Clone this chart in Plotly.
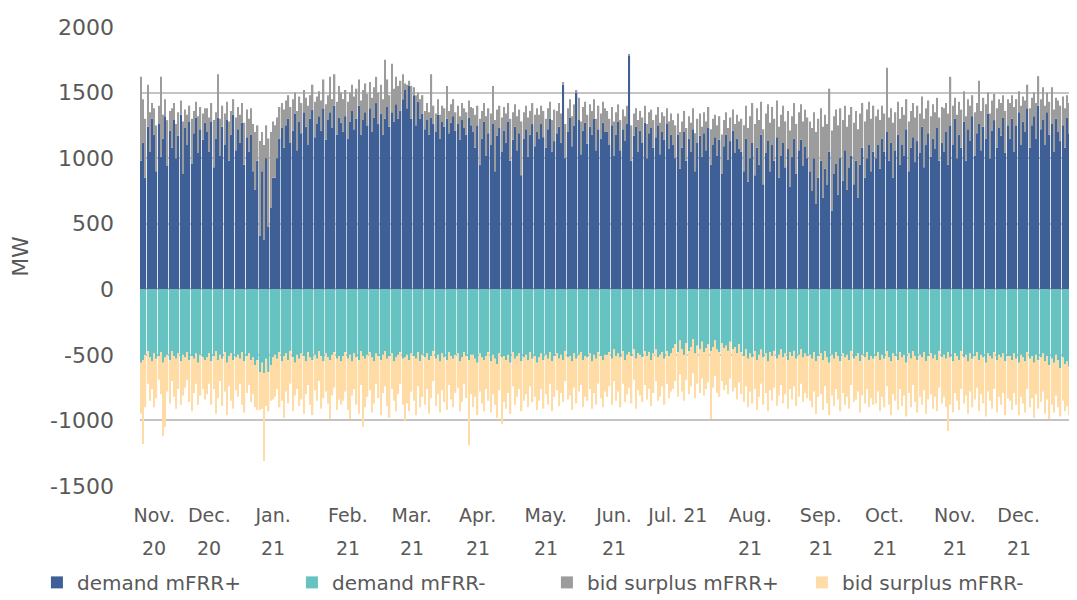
import pandas as pd
import plotly.graph_objects as go

# ---- data (MW, one value per day, Nov 2020 - Dec 2021) ----
demand_plus = [
 980,1120,850,1240,1050,1300,1180,900,1260,1010,1150,1320,940,1210,1080,1290,1000,1170,1330,880,1230,1100,1280,960,1190,1310,1040,1220,1140,1270,
 1200,1050,1280,930,1150,1310,1020,1240,1100,1290,980,1180,1330,1060,1220,1120,1270,950,1160,1050,1180,900,760,980,410,900,380,1000,480,620,850,
 850,1000,1150,1230,1080,1250,1300,1120,1210,1340,1060,1280,1190,1350,1240,1100,1300,1370,1160,1260,1320,1210,1380,1140,1290,1350,1230,1400,1180,1310,1270,
 1200,1320,1150,1280,1360,1220,1300,1400,1180,1290,1350,1250,1380,1200,1310,1420,1260,1340,1180,1300,1390,1240,1350,1280,1410,1300,1360,1450,
 1520,1380,1550,1300,1480,1250,1430,1300,1340,1220,1290,1180,1310,1260,1200,1330,1150,1280,1240,1300,1190,1270,1320,1210,1260,1140,1290,1230,1180,1310,1250,
 1200,1080,1250,950,1150,1280,1020,1190,1100,1260,900,1170,1230,1050,1210,1120,1280,980,1140,1240,1060,1190,870,1150,1220,1010,1180,1260,1090,1200,
 1150,1260,1160,1080,1220,1300,1050,1130,1190,1240,1120,1560,1000,1200,1310,1090,1250,1500,1290,1030,1210,1270,1110,1240,1180,1300,1060,1220,1150,1270,1200,
 1200,1100,1250,1020,1180,1280,1060,1220,1130,1260,1780,980,1170,1240,1050,1210,1120,1270,1000,1190,1230,1080,1160,1250,1030,1200,1140,1260,1070,1180,
 1100,1000,1180,920,1080,1200,980,1150,1050,1220,900,1120,1170,1010,1190,1060,1230,950,1100,1160,1020,1140,880,1090,1180,990,1130,1210,1040,1150,1070,
 1050,900,1150,820,1000,1120,870,1080,950,1180,800,1040,1130,900,1100,980,1160,850,1020,1120,930,1070,780,1010,1150,880,1060,1140,940,1090,1000,
 900,750,1000,650,850,980,700,920,800,1050,600,880,960,720,1000,830,1060,760,930,1020,800,980,700,950,1080,850,1000,1100,900,1050,
 1000,1100,920,1150,1050,1200,980,1120,850,1060,1180,950,1100,1020,1220,900,1080,1160,970,1130,1040,1240,930,1100,1190,1010,1150,1070,1230,980,1120,
 1050,1200,950,1250,1100,1300,1000,1180,1080,1280,980,1220,1130,1320,1020,1190,1260,1060,1240,1150,1340,1000,1210,1290,1080,1230,1170,1310,1040,1250,
 1150,1300,1050,1250,1350,1100,1280,1200,1380,1080,1250,1320,1150,1400,1220,1290,1100,1350,1180,1260,1050,1300,1200,1130,1250,1080,1310,1190,1270,1120,1240,
]
surplus_plus = [
 640,330,450,320,300,120,200,350,140,610,180,130,350,150,300,130,260,180,110,400,140,230,120,340,170,120,280,170,200,110,
 180,260,140,360,200,330,280,160,240,140,300,180,120,250,170,210,150,320,210,250,200,360,440,270,720,300,720,250,670,580,430,
 400,310,240,190,290,190,180,270,240,160,300,190,230,170,220,300,180,190,270,210,190,230,220,270,190,270,220,240,250,240,230,
 250,200,280,220,200,250,230,200,260,230,220,240,200,260,230,200,240,220,270,450,210,240,370,250,210,250,230,190,
 50,180,40,250,60,230,70,150,140,140,130,170,330,140,140,120,180,120,140,250,170,140,130,140,140,180,130,150,170,130,140,
 180,250,150,350,210,140,300,190,240,290,390,200,170,260,180,220,140,320,210,170,260,180,410,200,180,300,180,160,240,180,
 180,140,200,220,160,130,240,240,170,180,220,20,260,180,140,230,160,20,170,250,180,160,220,170,180,150,240,180,190,160,180,
 160,200,140,260,170,130,230,150,190,140,10,270,170,140,240,150,190,130,260,160,140,210,170,140,240,150,180,120,210,160,
 190,250,160,280,200,160,250,170,220,160,290,180,170,230,160,220,160,270,200,170,230,180,300,200,170,240,180,160,220,180,210,
 250,350,250,410,320,300,390,300,340,250,420,300,280,370,290,320,280,390,310,280,350,290,430,310,270,380,290,270,340,280,310,
 380,480,350,550,450,400,540,410,460,480,610,440,410,530,380,460,340,480,400,370,470,380,520,390,340,430,370,330,400,350,
 320,270,370,250,290,490,330,260,420,290,250,350,290,310,230,380,280,260,340,270,300,230,370,280,250,310,260,280,230,330,270,
 330,220,390,370,300,160,330,250,290,230,340,230,270,160,330,230,330,300,220,260,160,340,230,200,300,220,250,170,320,200,
 270,180,340,200,160,300,190,240,180,300,210,180,270,225,230,250,300,150,250,280,320,160,240,270,220,300,170,230,190,270,200,
]
demand_minus = [
 -560,-540,-500,-470,-520,-550,-490,-530,-510,-480,-560,-520,-500,-540,-470,-510,-530,-490,-550,-500,-520,-480,-540,-510,-530,-490,-560,-500,-520,-540,
 -520,-490,-550,-510,-470,-540,-500,-530,-480,-560,-510,-490,-540,-520,-500,-530,-480,-550,-510,-490,-540,-520,-580,-540,-630,-560,-640,-530,-630,-580,-520,
 -500,-530,-480,-550,-510,-490,-540,-470,-520,-560,-500,-530,-490,-510,-550,-480,-520,-540,-500,-530,-470,-510,-550,-490,-520,-540,-500,-480,-530,-510,-550,
 -510,-480,-530,-500,-550,-490,-520,-540,-470,-510,-530,-500,-480,-520,-550,-490,-510,-540,-500,-470,-530,-510,-490,-550,-520,-500,-480,-530,
 -520,-500,-540,-490,-510,-530,-480,-550,-500,-520,-490,-540,-510,-470,-530,-500,-550,-490,-520,-540,-480,-510,-530,-500,-490,-550,-520,-480,-510,-540,-500,
 -500,-530,-560,-490,-520,-540,-510,-480,-550,-500,-530,-570,-490,-520,-510,-540,-500,-560,-480,-530,-510,-490,-550,-520,-500,-540,-480,-530,-510,-560,
 -520,-490,-540,-500,-530,-480,-550,-510,-490,-530,-500,-540,-470,-520,-510,-550,-490,-530,-500,-480,-540,-510,-520,-490,-550,-500,-530,-480,-510,-540,-500,
 -500,-480,-530,-460,-510,-490,-520,-470,-540,-500,-480,-510,-460,-530,-490,-500,-520,-470,-510,-480,-540,-490,-460,-520,-500,-480,-530,-470,-510,-490,
 -450,-420,-480,-390,-460,-500,-410,-470,-440,-380,-490,-430,-460,-400,-480,-450,-420,-470,-440,-390,-460,-480,-410,-450,-430,-470,-400,-460,-440,-490,-420,
 -480,-510,-460,-530,-490,-520,-470,-540,-500,-460,-520,-490,-550,-480,-510,-470,-530,-500,-460,-520,-490,-540,-480,-510,-470,-530,-500,-460,-520,-490,-510,
 -500,-530,-480,-550,-510,-490,-540,-470,-520,-560,-500,-530,-480,-510,-550,-490,-520,-500,-540,-470,-530,-510,-490,-550,-500,-520,-480,-540,-510,-530,
 -510,-480,-540,-500,-530,-470,-520,-550,-490,-510,-540,-480,-520,-500,-560,-490,-530,-470,-510,-540,-500,-520,-480,-550,-510,-490,-530,-500,-540,-470,-520,
 -500,-530,-480,-520,-550,-490,-510,-540,-470,-520,-500,-550,-490,-530,-510,-480,-540,-500,-520,-560,-490,-510,-530,-480,-540,-500,-520,-490,-550,-510,
 -510,-540,-490,-530,-560,-500,-520,-550,-480,-530,-510,-560,-500,-540,-520,-490,-550,-510,-580,-530,-560,-500,-540,-600,-520,-570,-550,-590,-530,-610,-560,
]
surplus_minus = [
 -390,-640,-400,-250,-330,-210,-410,-300,-180,-320,-560,-530,-280,-330,-230,-310,-380,-270,-330,-310,-230,-210,-320,-420,-260,-230,-320,-310,-240,-300,
 -280,-230,-330,-250,-480,-290,-200,-360,-300,-400,-230,-360,-370,-250,-320,-190,-400,-390,-280,-240,-320,-280,-320,-380,-290,-350,-670,-360,-300,-270,-320,
 -320,-230,-420,-300,-470,-290,-330,-250,-410,-250,-260,-360,-350,-440,-250,-250,-360,-420,-270,-320,-230,-400,-280,-290,-350,-450,-310,-270,-390,-330,-330,
 -340,-300,-390,-490,-260,-270,-360,-410,-260,-540,-370,-320,-290,-420,-320,-230,-320,-420,-290,-270,-360,-470,-270,-300,-410,-300,-240,-350,
 -480,-370,-390,-290,-340,-430,-260,-350,-320,-360,-270,-410,-320,-230,-360,-300,-390,-280,-340,-380,-250,-330,-370,-290,-260,-380,-340,-240,-320,-650,-300,
 -400,-290,-400,-290,-350,-390,-250,-370,-390,-300,-350,-410,-280,-510,-350,-370,-290,-390,-260,-350,-310,-270,-380,-330,-300,-360,-260,-330,-310,-360,
 -330,-270,-370,-300,-350,-240,-380,-310,-280,-360,-290,-320,-230,-320,-300,-370,-260,-340,-280,-250,-360,-310,-330,-270,-360,-290,-350,-240,-320,-360,-280,
 -320,-260,-350,-240,-340,-290,-380,-250,-320,-300,-270,-360,-230,-380,-280,-310,-340,-260,-330,-280,-350,-300,-240,-330,-320,-260,-350,-250,-320,-290,
 -310,-280,-340,-260,-320,-350,-280,-330,-300,-260,-340,-290,-330,-280,-330,-310,-290,-520,-310,-270,-330,-340,-290,-320,-300,-330,-280,-320,-310,-350,-290,
 -320,-350,-280,-370,-290,-350,-290,-380,-320,-260,-360,-300,-380,-290,-340,-280,-360,-310,-270,-350,-310,-370,-280,-330,-270,-360,-320,-260,-340,-300,-320,
 -350,-370,-300,-400,-310,-310,-380,-270,-350,-400,-310,-360,-280,-330,-380,-300,-360,-320,-370,-260,-330,-330,-290,-390,-310,-350,-280,-360,-320,-350,
 -360,-300,-390,-320,-370,-270,-360,-410,-310,-340,-380,-280,-370,-310,-410,-300,-370,-260,-350,-400,-320,-360,-290,-400,-330,-310,-380,-320,-390,-280,-350,
 -320,-370,-600,-360,-390,-300,-340,-380,-290,-350,-310,-400,-290,-370,-330,-270,-390,-300,-350,-410,-290,-340,-380,-280,-400,-320,-360,-300,-410,-320,
 -340,-380,-300,-350,-400,-320,-350,-390,-280,-370,-320,-420,-300,-370,-340,-290,-400,-330,-410,-350,-380,-310,-360,-370,-330,-360,-340,-370,-340,-340,-340,
]

tick_line1 = ["Nov.", "Dec.", "Jan.", "Feb.", "Mar.", "Apr.", "May.", "Jun.", "Jul. 21",
              "Aug.", "Sep.", "Oct.", "Nov.", "Dec."]
tick_line2 = ["20", "20", "21", "21", "21", "21", "21", "21", "",
              "21", "21", "21", "21", "21"]
y_ticks = [-1500, -1000, -500, 0, 500, 1000, 1500, 2000]
y_tick_text = ["-1500", "-1000", "-500", "0", "500", "1000", "1500", "2000"]
# label anchor positions along the time axis
tick_pos = ["2020-11-07", "2020-12-02", "2020-12-31", "2021-02-03", "2021-03-04", "2021-04-03",
            "2021-05-04", "2021-06-04", "2021-07-03", "2021-08-05", "2021-09-06", "2021-10-05",
            "2021-11-06", "2021-12-05"]

n = min(len(demand_plus), len(surplus_plus), len(demand_minus), len(surplus_minus))
dates = pd.date_range("2020-11-01", periods=n, freq="D")

TXT = "#595959"
FONT = "DejaVu Sans"

fig = go.Figure()
fig.add_trace(go.Bar(x=dates, y=demand_plus[:n], name="demand mFRR+", marker=dict(color="#3E6096", line_width=0)))
fig.add_trace(go.Bar(x=dates, y=demand_minus[:n], name="demand mFRR-", marker=dict(color="#66C3C1", line_width=0)))
fig.add_trace(go.Bar(x=dates, y=surplus_plus[:n], name="bid surplus mFRR+", marker=dict(color="#9C9C9C", line_width=0)))
fig.add_trace(go.Bar(x=dates, y=surplus_minus[:n], name="bid surplus mFRR-", marker=dict(color="#FFDBA6", line_width=0)))

xr = [dates[0] - pd.Timedelta(hours=12), dates[-1] + pd.Timedelta(hours=12)]

for pos, txt in zip(tick_pos, tick_line2):
    if txt:
        fig.add_annotation(x=pos, xref="x", y=-0.135, yref="paper", yanchor="middle",
                           text=txt, showarrow=False, font=dict(size=19, color=TXT))

# page body has an 8px margin, so the figure is sized to fill the rest of the window
fig.update_layout(
    width=1069, height=592,
    margin=dict(l=132, r=0, t=19, b=114, autoexpand=False),
    paper_bgcolor="white", plot_bgcolor="white",
    barmode="relative", bargap=0.38,
    font=dict(family=FONT, color=TXT),
    xaxis=dict(range=xr, tickvals=tick_pos, ticktext=tick_line1, tickangle=0,
               showgrid=False, zeroline=False, showline=False, ticks="",
               tickfont=dict(size=19, color=TXT), ticklabelstandoff=16),
    yaxis=dict(range=[-1500, 2000], tickvals=y_ticks, ticktext=y_tick_text,
               showgrid=True, gridcolor="#C4C4C4", gridwidth=2, zeroline=False,
               tickfont=dict(size=22, color=TXT), ticklabelstandoff=25,
               title=dict(text="MW", font=dict(size=22, color=TXT), standoff=20)),
    legend=dict(orientation="h", x=-0.11, xanchor="left", y=-0.21, yanchor="middle",
                entrywidth=210, font=dict(size=20, color=TXT), traceorder="normal"),
)
fig.write_html("out.html")
